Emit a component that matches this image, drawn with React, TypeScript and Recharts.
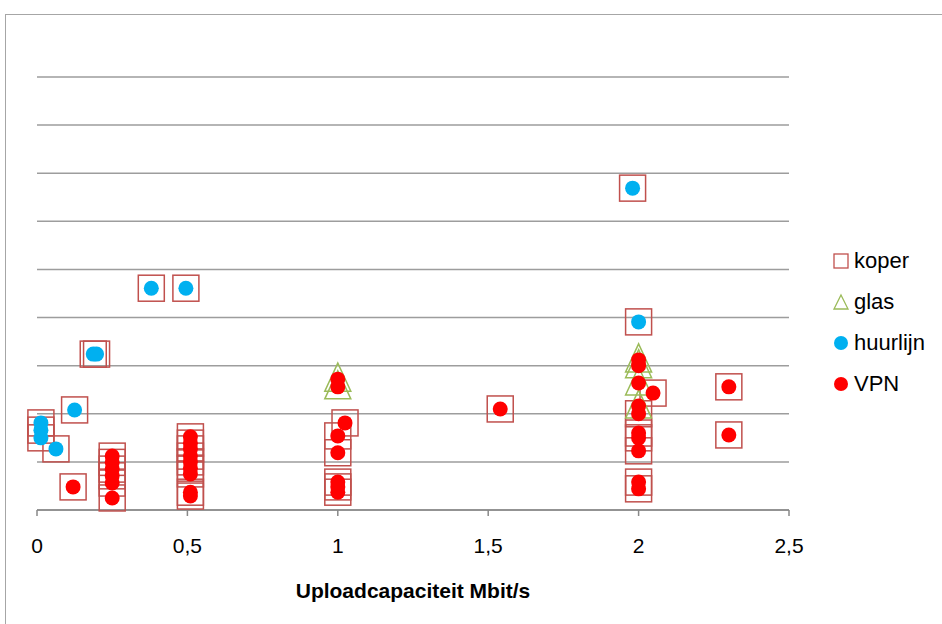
import { ScatterChart, Scatter, XAxis, YAxis, CartesianGrid, Legend, Label } from 'recharts';

// points drawn as copper (koper) squares
const koper = [
  { x: 1.98, y: 6.69 }, { x: 0.38, y: 4.61 }, { x: 0.495, y: 4.61 },
  { x: 0.187, y: 3.24 }, { x: 0.198, y: 3.24 }, { x: 2.0, y: 3.91 },
  { x: 0.125, y: 2.08 }, { x: 0.013, y: 1.81 }, { x: 0.013, y: 1.66 },
  { x: 0.013, y: 1.5 }, { x: 0.063, y: 1.27 },
  { x: 0.12, y: 0.48 },
  { x: 0.25, y: 1.12 }, { x: 0.25, y: 0.99 }, { x: 0.25, y: 0.85 },
  { x: 0.25, y: 0.71 }, { x: 0.25, y: 0.56 }, { x: 0.25, y: 0.25 },
  { x: 0.51, y: 1.52 }, { x: 0.51, y: 1.39 }, { x: 0.51, y: 1.27 },
  { x: 0.51, y: 1.12 }, { x: 0.51, y: 1.0 }, { x: 0.51, y: 0.87 },
  { x: 0.51, y: 0.75 }, { x: 0.51, y: 0.37 }, { x: 0.51, y: 0.29 },
  { x: 1.024, y: 1.81 }, { x: 1.0, y: 1.54 }, { x: 1.0, y: 1.19 },
  { x: 1.0, y: 0.58 }, { x: 1.0, y: 0.48 }, { x: 1.0, y: 0.37 },
  { x: 1.54, y: 2.1 },
  { x: 2.048, y: 2.43 }, { x: 2.0, y: 2.0 }, { x: 2.0, y: 1.6 },
  { x: 2.0, y: 1.5 }, { x: 2.0, y: 1.23 }, { x: 2.0, y: 0.58 }, { x: 2.0, y: 0.44 },
  { x: 2.3, y: 2.56 }, { x: 2.3, y: 1.56 },
];

const glas = [
  { x: 1.0, y: 2.72 }, { x: 1.0, y: 2.56 },
  { x: 2.0, y: 3.12 }, { x: 2.0, y: 3.0 }, { x: 2.0, y: 2.64 }, { x: 2.0, y: 2.16 },
];

const huurlijn = [
  { x: 1.98, y: 6.69 }, { x: 0.38, y: 4.61 }, { x: 0.495, y: 4.61 },
  { x: 0.187, y: 3.24 }, { x: 0.198, y: 3.24 }, { x: 2.0, y: 3.91 },
  { x: 0.125, y: 2.08 }, { x: 0.013, y: 1.81 }, { x: 0.013, y: 1.66 },
  { x: 0.013, y: 1.5 }, { x: 0.063, y: 1.27 },
];

const vpn = [
  { x: 0.12, y: 0.48 },
  { x: 0.25, y: 1.12 }, { x: 0.25, y: 0.99 }, { x: 0.25, y: 0.85 },
  { x: 0.25, y: 0.71 }, { x: 0.25, y: 0.56 }, { x: 0.25, y: 0.25 },
  { x: 0.51, y: 1.52 }, { x: 0.51, y: 1.39 }, { x: 0.51, y: 1.27 },
  { x: 0.51, y: 1.12 }, { x: 0.51, y: 1.0 }, { x: 0.51, y: 0.87 },
  { x: 0.51, y: 0.75 }, { x: 0.51, y: 0.37 }, { x: 0.51, y: 0.29 },
  { x: 1.0, y: 2.72 }, { x: 1.0, y: 2.56 },
  { x: 1.024, y: 1.81 }, { x: 1.0, y: 1.54 }, { x: 1.0, y: 1.19 },
  { x: 1.0, y: 0.58 }, { x: 1.0, y: 0.48 }, { x: 1.0, y: 0.37 },
  { x: 1.54, y: 2.1 },
  { x: 2.0, y: 3.12 }, { x: 2.0, y: 3.0 }, { x: 2.0, y: 2.64 },
  { x: 2.048, y: 2.43 }, { x: 2.0, y: 2.16 }, { x: 2.0, y: 2.0 },
  { x: 2.0, y: 1.6 }, { x: 2.0, y: 1.5 }, { x: 2.0, y: 1.23 },
  { x: 2.0, y: 0.58 }, { x: 2.0, y: 0.44 },
  { x: 2.3, y: 2.56 }, { x: 2.3, y: 1.56 },
];

const xTicks = [0, 0.5, 1, 1.5, 2, 2.5];
const yTicks = [0, 1, 2, 3, 4, 5, 6, 7, 8, 9];

const KOPER_COLOR = '#C0504D';
const GLAS_COLOR = '#9BBB59';
const HUURLIJN_COLOR = '#00B0F0';
const VPN_COLOR = '#FF0000';

const FONT = '"Liberation Sans", Arial, sans-serif';

const Square = ({ cx, cy }: any) => (
  <rect x={cx - 13} y={cy - 13} width={26} height={26} fill="none" stroke={KOPER_COLOR} strokeWidth={1.5} />
);

const Triangle = ({ cx, cy }: any) => (
  <polygon
    points={`${cx},${cy - 16} ${cx + 13},${cy + 12} ${cx - 13},${cy + 12}`}
    fill="none"
    stroke={GLAS_COLOR}
    strokeWidth={1.5}
  />
);

const makeDot = (color: string) => ({ cx, cy }: any) => (
  <circle cx={cx} cy={cy} r={7.5} fill={color} />
);

const legendItems = [
  { name: 'koper', kind: 'square', color: KOPER_COLOR },
  { name: 'glas', kind: 'triangle', color: GLAS_COLOR },
  { name: 'huurlijn', kind: 'dot', color: HUURLIJN_COLOR },
  { name: 'VPN', kind: 'dot', color: VPN_COLOR },
];

const renderLegend = () => (
  <div style={{ fontFamily: FONT, fontSize: 22, color: '#000' }}>
    {legendItems.map((item) => (
      <div key={item.name} style={{ display: 'flex', alignItems: 'center', height: 41 }}>
        <svg width={18} height={18} style={{ marginRight: 4 }}>
          {item.kind === 'square' && (
            <rect x={2} y={2} width={14} height={14} fill="none" stroke={item.color} strokeWidth={1.3} />
          )}
          {item.kind === 'triangle' && (
            <polygon points="9,2 16,16 2,16" fill="none" stroke={item.color} strokeWidth={1.3} />
          )}
          {item.kind === 'dot' && <circle cx={9} cy={9} r={7} fill={item.color} />}
        </svg>
        <span>{item.name}</span>
      </div>
    ))}
  </div>
);

export default function App() {
  return (
    <div style={{ position: 'absolute', left: 0, top: 0, width: 942, height: 624, background: '#fff', fontFamily: FONT }}>
      <div
        style={{
          position: 'absolute',
          left: 5,
          top: 14,
          right: 0,
          bottom: 0,
          borderLeft: '1.5px solid #a6a6a6',
          borderTop: '1.5px solid #a6a6a6',
        }}
      />
      <ScatterChart
        width={942}
        height={624}
        margin={{ top: 77, right: 153, bottom: 14, left: 37 }}
        style={{ position: 'absolute', left: 0, top: 0 }}
      >
        <CartesianGrid horizontal vertical={false} stroke="#9d9d9d" strokeWidth={1.5} />
        <XAxis
          dataKey="x"
          type="number"
          domain={[0, 2.5]}
          ticks={xTicks}
          tickFormatter={(v: number) => String(v).replace('.', ',')}
          stroke="#888"
          strokeWidth={1.5}
          tickSize={6}
          tickMargin={22}
          tick={{ fill: '#000', fontSize: 21 }}
          height={100}
        >
          <Label
            value="Uploadcapaciteit Mbit/s"
            position="insideBottom"
            offset={12}
            style={{ fontWeight: 'bold', fontSize: 21, fill: '#000' }}
          />
        </XAxis>
        <YAxis
          dataKey="y"
          type="number"
          domain={[0, 9]}
          ticks={yTicks}
          interval={0}
          width={0}
          axisLine={false}
          tickLine={false}
          tick={() => <g />}
        />
        <Legend
          layout="vertical"
          align="center"
          verticalAlign="middle"
          content={renderLegend}
          wrapperStyle={{ left: 832, top: 240, width: 110 }}
        />
        <Scatter name="koper" data={koper} shape={Square} isAnimationActive={false} />
        <Scatter name="glas" data={glas} shape={Triangle} isAnimationActive={false} />
        <Scatter name="huurlijn" data={huurlijn} shape={makeDot(HUURLIJN_COLOR)} isAnimationActive={false} />
        <Scatter name="VPN" data={vpn} shape={makeDot(VPN_COLOR)} isAnimationActive={false} />
      </ScatterChart>
    </div>
  );
}
